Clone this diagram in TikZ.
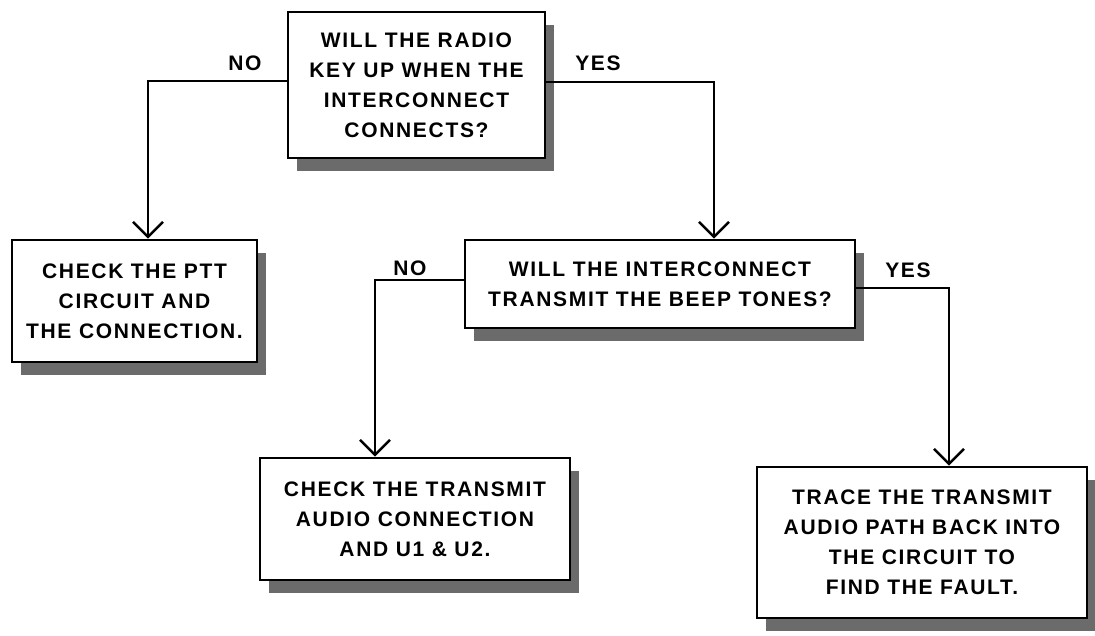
\documentclass[tikz,border=0pt]{standalone}
\usepackage{fontspec}
\newfontfamily\handfont[LetterSpace=8]{Liberation Sans}
\usetikzlibrary{arrows.meta,shadows}
\begin{document}
\begin{tikzpicture}[x=1pt,y=-1pt,
  box/.style={draw=black,line width=2.8pt,fill=white,inner sep=0pt,align=center,
    font=\handfont\bfseries\fontsize{21}{30}\selectfont,
    drop shadow={shadow xshift=9pt,shadow yshift=-13pt,fill=black!58,opacity=1}},
  conn/.style={line width=2.8pt,-{Straight Barb[length=15pt,width=30pt,line width=2.4pt]}},
  lab/.style={font=\handfont\bfseries\fontsize{21}{24}\selectfont,inner sep=0pt}]
\useasboundingbox (0,0) rectangle (1095,635);
\fill[white] (0,0) rectangle (1095,635);
\node[box,minimum width=257pt,minimum height=146pt] (q1) at (416.5,85)
  {WILL THE RADIO\\KEY UP WHEN THE\\INTERCONNECT\\CONNECTS?};
\node[box,minimum width=245pt,minimum height=122pt] (ptt) at (134.5,301)
  {CHECK THE PTT\\CIRCUIT AND\\THE CONNECTION.};
\node[box,minimum width=390pt,minimum height=88pt] (q2) at (660,284)
  {WILL THE INTERCONNECT\\TRANSMIT THE BEEP TONES?};
\node[box,minimum width=310pt,minimum height=122pt] (aud) at (415,519)
  {CHECK THE TRANSMIT\\AUDIO CONNECTION\\AND U1 \& U2.};
\node[box,minimum width=330pt,minimum height=151pt] (trace) at (922,542.5)
  {TRACE THE TRANSMIT\\AUDIO PATH BACK INTO\\THE CIRCUIT TO\\FIND THE FAULT.};
\draw[conn] ([yshift=4pt]q1.west) -| ([xshift=13.5pt]ptt.north);
\draw[conn] ([yshift=3pt]q1.east) -| ([xshift=54pt]q2.north);
\draw[conn] ([yshift=4pt]q2.west) -| ([xshift=-40pt]aud.north);
\draw[conn] ([yshift=-4pt]q2.east) -| ([xshift=27pt]trace.north);
\node[lab] (no1) at (245,63) {NO};
\node[lab] (yes1) at (598,63) {YES};
\node[lab] (no2) at (410,268) {NO};
\node[lab] (yes2) at (908,270) {YES};
\end{tikzpicture}
\end{document}
